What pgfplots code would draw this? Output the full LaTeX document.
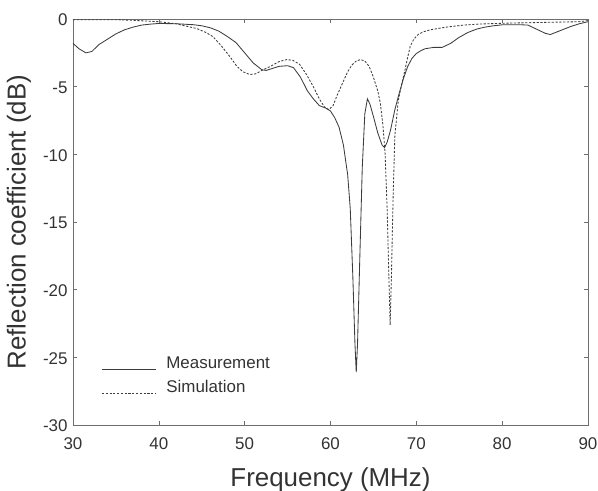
\documentclass[border=0pt]{standalone}
\usepackage{pgfplots}
\pgfplotsset{compat=1.18}
\usepackage{fontspec}
\setmainfont{Liberation Sans}

\definecolor{axisgray}{HTML}{6E6E6E}
\definecolor{labelgray}{HTML}{333333}
\definecolor{curvegray}{HTML}{3C3C3C}

\begin{document}
\begin{tikzpicture}
\useasboundingbox (-73bp,-66bp) rectangle (525bp,425bp);
\begin{axis}[
  at={(0,0)}, anchor=south west,
  scale only axis,
  width=515bp, height=406bp,
  xmin=30, xmax=90, ymin=-30, ymax=0,
  xtick={30,40,...,90}, ytick={-30,-25,...,0},
  tick align=inside,
  major tick length=4bp,
  axis line style={axisgray, line width=0.8pt},
  every tick/.style={axisgray, line width=0.6pt},
  /pgf/number format/assume math mode=true,
  tick label style={font=\fontsize{17}{20}\selectfont, text=labelgray},
  xticklabel style={yshift=-9bp},
  yticklabel style={xshift=-2bp, yshift=-1bp},
  xlabel={Frequency (MHz)},
  ylabel={Reflection coefficient (dB)},
  label style={font=\fontsize{26}{30}\selectfont, text=labelgray},
  xlabel style={at={(axis description cs:0.5,-0.136)}, anchor=center},
  ylabel style={at={(axis description cs:-0.105,0.5)}, anchor=center},
  legend cell align=left,
  legend style={draw=none, fill=none, inner sep=0pt,
    at={(axis description cs:0.055,0.168)}, anchor=north west,
    font=\fontsize{17}{20}\selectfont, text=labelgray,
    nodes={inner sep=0pt, text height=12bp, text depth=12bp},
    column sep=10bp},
  legend image code/.code={\draw[#1] (0bp,0bp) -- (54bp,0bp);},
]
\addplot[curvegray, line width=0.85pt] coordinates {
(30,-1.8) (30.7,-2.2) (31.5,-2.5) (32.2,-2.4) (33,-1.9) (34,-1.5) (35,-1.1)
(36,-0.8) (37,-0.6) (38,-0.45) (39,-0.38) (40,-0.33) (42,-0.35) (44,-0.42)
(45,-0.5) (46,-0.65) (47,-0.9) (48,-1.3) (49,-1.75) (50,-2.5) (51,-3.25)
(52,-3.75) (52.5,-3.8) (53,-3.7) (54,-3.5) (55,-3.45) (55.7,-3.6) (56.5,-4.3)
(57.3,-5.3) (58,-5.9) (58.7,-6.4) (59.5,-6.6) (60,-6.8) (60.5,-7.3) (61,-8.0)
(61.5,-9.3) (62,-11.5) (62.3,-14) (62.6,-19) (62.85,-24) (63,-26.1) (63.15,-24)
(63.4,-18) (63.7,-11) (64,-7) (64.3,-5.9) (64.6,-6.3) (65,-7.2) (65.5,-8.4)
(66,-9.3) (66.3,-9.5) (66.6,-9.1) (67,-8.2) (67.5,-6.7) (68,-5.5) (68.5,-4.4)
(69,-3.5) (69.5,-2.9) (70,-2.55) (70.5,-2.35) (71,-2.2) (72,-2.1) (73,-2.1)
(74,-1.8) (75,-1.35) (76,-1.0) (77,-0.75) (78,-0.6) (79,-0.5) (80,-0.43)
(81,-0.42) (82,-0.42) (83,-0.45) (84,-0.75) (85,-1.05) (85.6,-1.15) (86,-1.05)
(87,-0.8) (88,-0.55) (89,-0.35) (90,-0.2)
};
\addlegendentry{Measurement}
\addplot[curvegray, line width=0.85pt, dash pattern=on 2.2pt off 1.6pt] coordinates {
(30,-0.05) (35,-0.05) (37,-0.1) (40,-0.2) (42,-0.35) (43,-0.5) (44.4,-0.7)
(45.5,-1.0) (46.3,-1.3) (47.3,-2.0) (48.3,-2.8) (49.1,-3.5) (49.8,-3.9)
(50.6,-4.1) (51.3,-4.05) (52,-3.8) (53,-3.5) (54,-3.15) (54.9,-3.0) (55.6,-3.05)
(56.4,-3.35) (57.2,-4.1) (58,-5.0) (58.7,-5.9) (59.3,-6.5) (59.8,-6.7) (60.3,-6.4)
(60.8,-5.6) (61.5,-4.6) (62,-3.9) (62.5,-3.4) (63,-3.1) (63.5,-3.0) (64,-3.1)
(64.5,-3.5) (65,-4.3) (65.5,-5.3) (65.8,-6.2) (66.1,-7.8) (66.35,-9.8)
(66.6,-14) (66.8,-19) (66.95,-22.6) (67.1,-19) (67.3,-13) (67.5,-8.6)
(67.9,-6.0) (68.3,-4.8) (68.7,-3.7) (69,-2.8) (69.3,-2.0) (69.7,-1.5)
(70.2,-1.15) (70.8,-0.95) (71.6,-0.8) (73.5,-0.6) (75.5,-0.45) (77.4,-0.37)
(81,-0.3) (85,-0.25) (89,-0.2) (90,-0.12)
};
\addlegendentry{Simulation}
\end{axis}
\end{tikzpicture}
\end{document}
